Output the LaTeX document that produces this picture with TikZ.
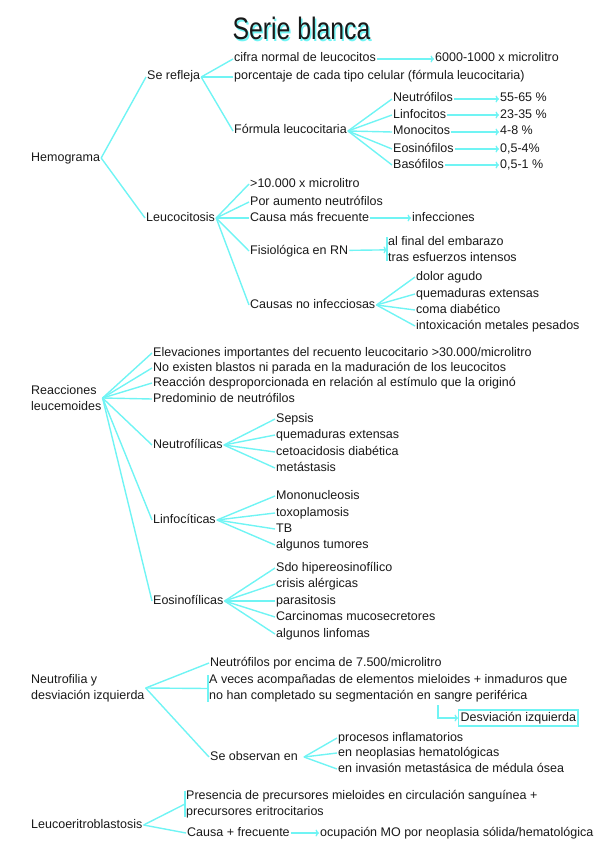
\documentclass[tikz,border=0pt]{standalone}
\usepackage{fontspec}
\setmainfont{Liberation Sans}
\newfontfamily\titlefont[FakeStretch=0.8]{Liberation Sans}
\usepackage{xcolor}
\usetikzlibrary{arrows.meta,positioning,calc}
\definecolor{linkcyan}{RGB}{112,244,244}
\definecolor{ink}{RGB}{25,25,25}
\newcommand\mapfont{\fontsize{12.5}{16}\selectfont}

\begin{document}
\begin{tikzpicture}[
    x=1pt, y=-1pt,
    txt/.style={anchor=west, inner sep=1pt, text=ink, font=\mapfont, text height=9pt, text depth=3pt},
    twoline/.style={anchor=west, inner sep=1pt, text=ink, font=\mapfont, align=left},
    link/.style={draw=linkcyan, line width=1.4pt},
    arr/.style={-{To[length=3.5pt,width=7pt]}, draw=linkcyan, line width=1.4pt},
    titletxt/.style={anchor=base, inner sep=0pt, font=\titlefont\fontsize{31}{31}\selectfont},
]
\useasboundingbox (0,0) rectangle (599,848);

% Title
\node[titletxt, text=linkcyan] (titleshadow) at (303,41.5) {Serie blanca};
\node[titletxt, text=ink] (title) at (301.5,40) {Serie blanca};

% Hemograma
\node[txt] (hemo) at (30,158) {Hemograma};
\node[txt] (refleja) at (146,77) {Se refleja};
\node[txt] (cifra) at (233,59) {cifra normal de leucocitos};
\node[txt] (cifraval) at (434,59) {6000-1000 x microlitro};
\node[txt] (porcentaje) at (233,77) {porcentaje de cada tipo celular (fórmula leucocitaria)};
\node[txt] (formula) at (233,131) {Fórmula leucocitaria};

% Formula leucocitaria
\node[txt] (neutro) at (392,99) {Neutrófilos};
\node[txt] (linfo) at (392,115) {Linfocitos};
\node[txt] (mono) at (392,132) {Monocitos};
\node[txt] (eosino) at (392,149) {Eosinófilos};
\node[txt] (baso) at (392,165) {Basófilos};
\node[txt] (neutroval) at (499,99) {55-65 \%};
\node[txt] (linfoval) at (499,115) {23-35 \%};
\node[txt] (monoval) at (499,132) {4-8 \%};
\node[txt] (eosinoval) at (499,149) {0,5-4\%};
\node[txt] (basoval) at (499,165) {0,5-1 \%};

% Leucocitosis
\node[txt] (leucocitosis) at (145,218) {Leucocitosis};
\node[txt] (diezmil) at (249,184) {>10.000 x microlitro};
\node[txt] (aumento) at (249,202) {Por aumento neutrófilos};
\node[txt] (causa) at (249,218) {Causa más frecuente};
\node[txt] (infecciones) at (411,218) {infecciones};
\node[txt] (fisio) at (249,251) {Fisiológica en RN};
\node[twoline] (fisiores) at (387,249) {al final del embarazo\\tras esfuerzos intensos};
\node[txt] (noinfec) at (249,305) {Causas no infecciosas};
\node[txt] (dolor) at (415,277) {dolor agudo};
\node[txt] (quemad) at (415,294) {quemaduras extensas};
\node[txt] (coma) at (415,310) {coma diabético};
\node[txt] (intox) at (415,326) {intoxicación metales pesados};

% Reacciones leucemoides
\node[twoline] (reacciones) at (30,398) {Reacciones\\leucemoides};
\node[txt] (elevaciones) at (152,353) {Elevaciones importantes del recuento leucocitario >30.000/microlitro};
\node[txt] (blastos) at (152,368) {No existen blastos ni parada en la maduración de los leucocitos};
\node[txt] (despro) at (152,383) {Reacción desproporcionada en relación al estímulo que la originó};
\node[txt] (predominio) at (152,399) {Predominio de neutrófilos};
\node[txt] (neutrofil) at (152,445) {Neutrofílicas};
\node[txt] (linfocit) at (152,520) {Linfocíticas};
\node[txt] (eosinofil) at (152,601) {Eosinofílicas};

\node[txt] (sepsis) at (275,419) {Sepsis};
\node[txt] (quemad2) at (275,435) {quemaduras extensas};
\node[txt] (cetoac) at (275,452) {cetoacidosis diabética};
\node[txt] (metast) at (275,468) {metástasis};

\node[txt] (mononuc) at (275,496) {Mononucleosis};
\node[txt] (toxo) at (275,513) {toxoplamosis};
\node[txt] (tb) at (275,529) {TB};
\node[txt] (tumores) at (275,545) {algunos tumores};

\node[txt] (sdo) at (275,568) {Sdo hipereosinofílico};
\node[txt] (crisis) at (275,584) {crisis alérgicas};
\node[txt] (parasit) at (275,601) {parasitosis};
\node[txt] (carcin) at (275,617) {Carcinomas mucosecretores};
\node[txt] (linfomas) at (275,634) {algunos linfomas};

% Neutrofilia y desviacion izquierda
\node[twoline] (neutrofilia) at (30,688) {Neutrofilia y\\desviación izquierda};
\node[txt] (encima) at (209,663) {Neutrófilos por encima de 7.500/microlitro};
\node[twoline] (aveces) at (208,688.5) {A veces acompañadas de elementos mieloides + inmaduros que\\no han completado su segmentación en sangre periférica};
\node[txt, draw=linkcyan, line width=1.4pt, inner sep=2pt] (desvbox) at (458,718) {Desviación izquierda};
\coordinate (desvstart) at (438,705);
\node[txt] (observan) at (209,757) {Se observan en};
\node[txt] (inflam) at (337,738) {procesos inflamatorios};
\node[txt] (neoplasias) at (337,753) {en neoplasias hematológicas};
\node[txt] (invasion) at (337,769) {en invasión metastásica de médula ósea};

% Leucoeritroblastosis
\node[txt] (leucoeri) at (30,825) {Leucoeritroblastosis};
\node[twoline] (presencia) at (185,804) {Presencia de precursores mieloides en circulación sanguínea +\\precursores eritrocitarios};
\node[txt] (causamas) at (186,833) {Causa + frecuente};
\node[txt] (ocupacion) at (319,833) {ocupación MO por neoplasia sólida/hematológica};

% Links
\draw[link] (hemo.east) -- (refleja.west);
\draw[link] (hemo.east) -- (leucocitosis.west);
\draw[link] (refleja.east) -- (cifra.west);
\draw[link] (refleja.east) -- (porcentaje.west);
\draw[link] (refleja.east) -- (formula.west);
\draw[link] (formula.east) -- (neutro.west);
\draw[link] (formula.east) -- (linfo.west);
\draw[link] (formula.east) -- (mono.west);
\draw[link] (formula.east) -- (eosino.west);
\draw[link] (formula.east) -- (baso.west);
\draw[link] (leucocitosis.east) -- (diezmil.west);
\draw[link] (leucocitosis.east) -- (aumento.west);
\draw[link] (leucocitosis.east) -- (causa.west);
\draw[link] (leucocitosis.east) -- (fisio.west);
\draw[link] (leucocitosis.east) -- (noinfec.west);
\draw[link] (noinfec.east) -- (dolor.west);
\draw[link] (noinfec.east) -- (quemad.west);
\draw[link] (noinfec.east) -- (coma.west);
\draw[link] (noinfec.east) -- (intox.west);
\draw[link] ([yshift=-2pt]fisiores.north west) -- ([yshift=2pt]fisiores.south west);

\draw[link] (reacciones.east) -- (elevaciones.west);
\draw[link] (reacciones.east) -- (blastos.west);
\draw[link] (reacciones.east) -- (despro.west);
\draw[link] (reacciones.east) -- (predominio.west);
\draw[link] (reacciones.east) -- (neutrofil.west);
\draw[link] (reacciones.east) -- (linfocit.west);
\draw[link] (reacciones.east) -- (eosinofil.west);
\draw[link] (neutrofil.east) -- (sepsis.west);
\draw[link] (neutrofil.east) -- (quemad2.west);
\draw[link] (neutrofil.east) -- (cetoac.west);
\draw[link] (neutrofil.east) -- (metast.west);
\draw[link] (linfocit.east) -- (mononuc.west);
\draw[link] (linfocit.east) -- (toxo.west);
\draw[link] (linfocit.east) -- (tb.west);
\draw[link] (linfocit.east) -- (tumores.west);
\draw[link] (eosinofil.east) -- (sdo.west);
\draw[link] (eosinofil.east) -- (crisis.west);
\draw[link] (eosinofil.east) -- (parasit.west);
\draw[link] (eosinofil.east) -- (carcin.west);
\draw[link] (eosinofil.east) -- (linfomas.west);

\draw[link] (neutrofilia.east) -- (encima.west);
\draw[link] (neutrofilia.east) -- (aveces.west);
\draw[link] (neutrofilia.east) -- (observan.west);
\draw[link] ([yshift=-2pt]aveces.north west) -- ([yshift=2pt]aveces.south west);
\draw[link] ([xshift=5pt]observan.east) -- (inflam.west);
\draw[link] ([xshift=5pt]observan.east) -- (neoplasias.west);
\draw[link] ([xshift=5pt]observan.east) -- (invasion.west);

\draw[link] (leucoeri.east) -- (presencia.west);
\draw[link] (leucoeri.east) -- (causamas.west);
\draw[link] ([yshift=-2pt]presencia.north west) -- ([yshift=2pt]presencia.south west);

% Arrows
\draw[arr] (cifra) -- (cifraval);
\draw[arr] (neutro) -- (neutroval);
\draw[arr] (linfo) -- (linfoval);
\draw[arr] (mono) -- (monoval);
\draw[arr] (eosino) -- (eosinoval);
\draw[arr] (baso) -- (basoval);
\draw[arr] (causa) -- (infecciones);
\draw[arr] (fisio) -- (fisiores);
\draw[arr] (desvstart) |- (desvbox.west);
\draw[arr] (causamas) -- (ocupacion);
\end{tikzpicture}
\end{document}
